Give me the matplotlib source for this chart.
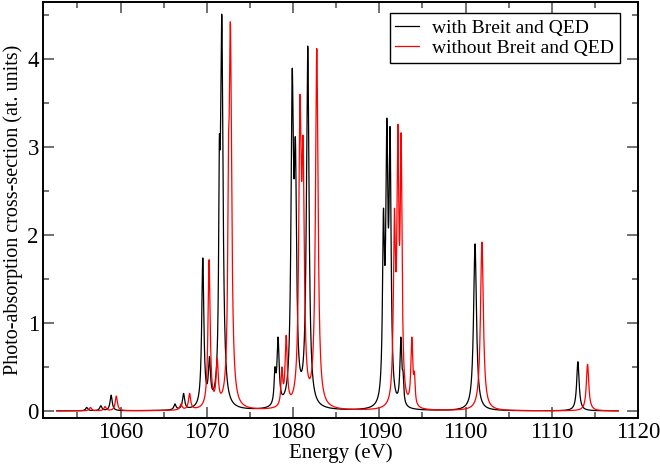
import numpy as np
import matplotlib
matplotlib.use("Agg")
import matplotlib.pyplot as plt
from matplotlib.ticker import MultipleLocator

# Line positions (eV), peak heights (at. units) and half widths (eV)
with_pos = [1056.07, 1057.7, 1058.9, 1066.3, 1067.3, 1069.53, 1070.3, 1071.45, 1071.73,
            1077.9, 1078.26, 1079.9, 1080.27, 1081.7, 1090.48, 1090.87, 1091.25,
            1092.5, 1092.75, 1101.1, 1113.03]
with_h = [0.04, 0.06, 0.18, 0.08, 0.2, 1.74, 0.62, 3.1, 4.51,
          0.5, 0.84, 3.89, 3.1, 4.15, 2.3, 3.33, 3.23,
          0.84, 0.45, 1.9, 0.56]
with_w = [0.15, 0.15, 0.15, 0.15, 0.15, 0.15, 0.15, 0.09, 0.18,
          0.12, 0.15, 0.165, 0.165, 0.18, 0.13, 0.14, 0.14,
          0.13, 0.1, 0.2, 0.17]

without_pos = [1056.5, 1058.2, 1059.5, 1067.0, 1068.0, 1070.26, 1071.2, 1072.5, 1072.73,
               1078.7, 1079.2, 1080.8, 1081.16, 1082.75, 1091.75, 1092.15, 1092.53,
               1093.77, 1094.07, 1101.9, 1114.15, 1114.6]
without_h = [0.04, 0.05, 0.17, 0.08, 0.2, 1.72, 0.6, 3.05, 4.42,
             0.5, 0.86, 3.59, 3.12, 4.12, 2.3, 3.26, 3.16,
             0.84, 0.45, 1.92, 0.53, 0.07]
without_w = [0.15, 0.15, 0.15, 0.15, 0.15, 0.15, 0.15, 0.09, 0.18,
             0.12, 0.15, 0.165, 0.165, 0.18, 0.14, 0.13, 0.13,
             0.13, 0.1, 0.2, 0.17, 0.12]

e_min, e_max = 1052.6, 1117.7


def lorentz(x, x0, g):
    return g**2 / ((x - x0)**2 + g**2)


def spectrum(pos, h, w, x):
    pos = np.asarray(pos)
    w = np.asarray(w)
    # amplitudes such that the summed curve hits the read heights at each line
    m = lorentz(pos[:, None], pos[None, :], w[None, :])
    amp = np.linalg.solve(m, np.asarray(h))
    amp = np.clip(amp, 0, None)
    return (amp[None, :] * lorentz(x[:, None], pos[None, :], w[None, :])).sum(axis=1)


energy = np.linspace(e_min, e_max, 10000)

plt.rcParams['font.family'] = ['Liberation Serif', 'DejaVu Serif']
fig = plt.figure(figsize=(6.6, 4.67), dpi=100)
ax = fig.add_axes([43 / 660, 1 - 418 / 467, 595 / 660, 416 / 467])

ax.plot(energy, spectrum(with_pos, with_h, with_w, energy), color='black', lw=0.9,
        label='with Breit and QED')
ax.plot(energy, spectrum(without_pos, without_h, without_w, energy), color='red', lw=0.9,
        label='without Breit and QED')

ax.set_xlim(1051, 1120)
ax.set_ylim(-0.08, 4.65)
ax.xaxis.set_major_locator(MultipleLocator(10))
ax.xaxis.set_minor_locator(MultipleLocator(5))
ax.yaxis.set_major_locator(MultipleLocator(1))
ax.yaxis.set_minor_locator(MultipleLocator(0.5))
ax.tick_params(which='both', direction='in', top=True, right=True,
               labelsize=16.5, color='0.35', width=1.2)
ax.tick_params(which='major', length=8, pad=3)
ax.tick_params(which='minor', length=4.5)
for s in ax.spines.values():
    s.set_linewidth(1.4)

ax.set_xlabel('Energy (eV)', fontsize=15, labelpad=0)
ax.set_ylabel('Photo-absorption cross-section (at. units)', fontsize=14.5, labelpad=3)

leg = ax.legend(loc='upper right', bbox_to_anchor=(0.97, 0.973), fontsize=14,
                frameon=True, fancybox=False, handlelength=1.2, handletextpad=0.7,
                borderpad=0.3, labelspacing=0.15, borderaxespad=0)
leg.get_frame().set_edgecolor('black')
leg.get_frame().set_linewidth(1.0)
leg.get_frame().set_alpha(1)

fig.savefig('out.png', dpi=100)
